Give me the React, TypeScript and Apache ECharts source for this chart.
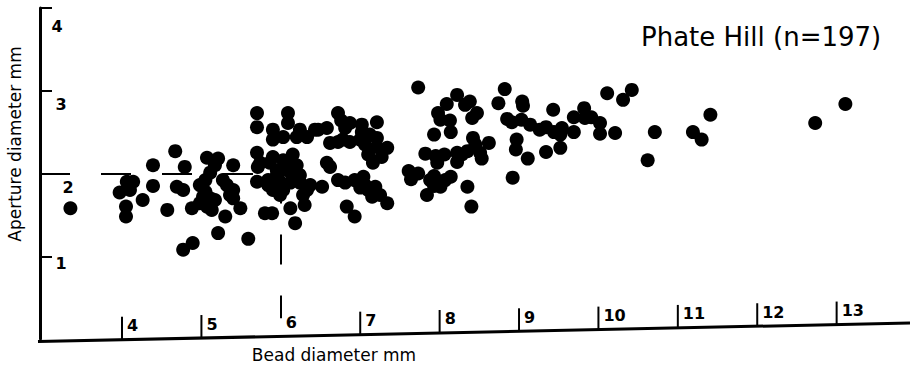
import React, { useEffect, useRef } from "react";
import * as echarts from "echarts";

// ---- data (bead diameter mm, aperture diameter mm) ----
const beadDiameterMm: number[] = [
  3.35, 3.97, 4.06, 4.14, 4.05, 4.05, 4.26, 4.39, 4.39, 4.67, 4.79, 4.69, 4.77, 4.57, 4.88, 4.77, 4.89,
  5.07, 5.21, 5.11, 4.98, 5.02, 4.98, 5.07, 5.13, 5.11, 5.32, 5.27, 5.40, 5.40, 5.49, 5.30, 5.21, 5.59,
  5.40, 5.70, 5.70, 5.70, 5.71, 5.70, 5.74, 5.05, 5.17,
  5.80, 5.89, 5.90, 5.90, 6.09, 6.09, 6.03, 6.20, 6.24, 6.33, 6.47, 6.58, 5.90, 6.03, 6.15, 6.20, 5.86,
  5.95, 5.95, 5.99, 6.12, 6.24, 6.33, 5.90, 6.03, 6.12, 6.18, 6.30, 6.52, 6.58, 6.62, 6.08, 6.18, 5.84, 6.28,
  6.72, 6.76, 6.62, 6.87, 7.00, 7.02, 7.21, 7.21, 7.21, 7.34, 6.72, 6.87, 7.10, 7.16, 7.27, 6.72, 6.93,
  7.04, 7.00, 7.10, 7.19, 7.15, 7.34, 6.93, 6.83, 6.81, 7.06,
  7.73, 7.98, 7.93, 7.82, 7.95, 8.06, 7.61, 7.73, 7.64, 7.84, 8.09, 8.22, 8.38, 8.13, 8.14, 8.22, 8.35,
  8.22, 7.97, 7.93, 8.14, 7.93, 8.01, 8.35, 8.40, 8.47, 8.41, 8.42, 8.62, 8.51, 8.53,
  8.82, 8.74, 9.04, 8.85, 9.03, 9.14, 8.97, 8.96, 9.11, 9.34, 9.52, 8.92, 9.43, 9.34, 9.44, 9.54,
  9.69, 9.69, 9.82, 9.91, 10.02, 10.02, 10.21, 10.11, 10.42, 10.31, 10.71, 10.62, 11.19, 11.30, 11.41,
  12.73, 13.11,
  4.10, 5.05, 5.36, 5.84, 5.99, 6.12, 6.24, 6.37, 6.43, 7.02, 6.78, 7.12, 7.06, 7.25, 6.81, 7.88, 8.07,
  8.28, 8.45, 8.01, 8.32, 8.91, 9.05, 9.26, 9.83, 9.52, 5.05, 5.17,
];

const apertureDiameterMm: number[] = [
  1.58, 1.77, 1.90, 1.90, 1.60, 1.48, 1.68, 1.85, 2.10, 2.27, 2.08, 1.84, 1.80, 1.56, 1.58, 1.08, 1.16,
  2.19, 2.18, 2.01, 1.86, 1.72, 1.64, 1.60, 1.56, 1.70, 1.86, 1.92, 1.80, 1.70, 1.58, 1.48, 1.28, 1.21,
  2.10, 2.73, 2.56, 2.25, 2.08, 1.90, 2.13, 1.78, 1.68,
  1.52, 1.52, 2.53, 2.41, 2.73, 2.61, 2.44, 2.44, 2.53, 2.44, 2.53, 2.55, 2.20, 2.16, 2.23, 2.10, 2.13,
  2.04, 1.98, 1.90, 1.89, 1.89, 1.80, 1.80, 1.80, 1.58, 1.40, 1.62, 1.84, 2.13, 2.08, 2.04, 1.98, 1.92, 1.74,
  2.73, 2.64, 2.37, 2.61, 2.41, 2.50, 2.62, 2.43, 2.32, 2.31, 2.38, 2.38, 2.23, 2.13, 2.20, 1.92, 1.92,
  1.96, 1.83, 1.80, 1.84, 1.72, 1.64, 1.48, 1.60, 2.55, 2.35,
  3.04, 2.73, 2.47, 2.24, 2.21, 2.23, 2.03, 2.00, 1.93, 1.74, 2.84, 2.95, 2.87, 2.64, 2.50, 2.25, 2.27,
  2.14, 2.13, 1.97, 1.96, 1.85, 1.84, 1.84, 1.60, 2.73, 2.67, 2.43, 2.37, 2.25, 2.18,
  3.02, 2.85, 2.87, 2.66, 2.65, 2.59, 2.41, 2.29, 2.18, 2.26, 2.31, 1.95, 2.77, 2.56, 2.50, 2.55,
  2.68, 2.50, 2.79, 2.68, 2.61, 2.48, 2.49, 2.97, 3.01, 2.89, 2.50, 2.16, 2.50, 2.41, 2.71,
  2.61, 2.84,
  1.80, 1.68, 1.74, 1.86, 1.74, 2.16, 1.98, 1.86, 2.53, 2.59, 2.41, 2.47, 1.86, 1.74, 1.89, 1.92, 1.92,
  2.23, 2.35, 2.65, 2.83, 2.62, 2.82, 2.53, 2.67, 2.47, 1.92, 2.10,
];

const xTickValues: number[] = [4, 5, 6, 7, 8, 9, 10, 11, 12, 13];
const yTickValues: number[] = [1, 2, 3, 4];
const titleText = "Phate Hill (n=197)";
const xAxisName = "Bead diameter mm";
const yAxisName = "Aperture diameter mm";
// dashed cross-hair reference lines (bead 6 mm, aperture 2 mm)
const crossX = 6;
const crossY = 2;
const crossEndY = 0.25;

// ---- layout / style ----
const X_MIN = 2.967;
const X_MAX = 13.924;
const Y_MIN = 0;
const Y_MAX = 4;
const FONT = '"DejaVu Sans", "Liberation Sans", sans-serif';
const INK = "#000";
// scanned x axis is slightly slanted: baseline y at left and right ends
const BASE_LEFT_Y = 341.5;
const BASE_RIGHT_Y = 323;
const Y_LABEL_OFFSETS: Record<number, [number, number]> = {
  4: [17, 18],
  3: [21, 14],
  2: [28, 14],
  1: [21, 7],
};

export default function App() {
  const ref = useRef<HTMLDivElement>(null);

  useEffect(() => {
    if (!ref.current) return;
    const chart = echarts.init(ref.current, null, { renderer: "svg" });

    const points = beadDiameterMm.map((x, i) => [x, apertureDiameterMm[i]]);

    chart.setOption({
      animation: false,
      backgroundColor: "#fff",
      title: {
        text: titleText,
        left: 636,
        top: 19,
        textStyle: { fontFamily: FONT, fontSize: 26, fontWeight: "normal", color: INK },
      },
      grid: { left: 40, right: 0, top: 8, bottom: 32, containLabel: false },
      xAxis: {
        type: "value",
        min: X_MIN,
        max: X_MAX,
        axisLine: { show: false },
        axisTick: { show: false },
        axisLabel: { show: false },
        splitLine: { show: false },
      },
      yAxis: {
        type: "value",
        min: Y_MIN,
        max: Y_MAX,
        axisLine: { show: true, onZero: false, lineStyle: { color: INK, width: 3 } },
        axisTick: {
          show: true,
          inside: true,
          length: 12,
          customValues: yTickValues,
          lineStyle: { color: INK, width: 2 },
        },
        axisLabel: { show: false },
        splitLine: { show: false },
      },
      series: [
        {
          type: "scatter",
          data: points,
          symbol: "circle",
          symbolSize: 14,
          itemStyle: { color: INK, opacity: 1 },
          z: 3,
          markLine: {
            silent: true,
            symbol: ["none", "none"],
            label: { show: false },
            lineStyle: { color: INK, width: 2, type: [30, 31], opacity: 1 },
            data: [
              [{ coord: [X_MIN, crossY] }, { coord: [crossX, crossY] }],
              [{ coord: [crossX, crossY] }, { coord: [crossX, crossEndY] }],
            ],
          },
        },
      ],
    });

    const toPx = (v: number) => chart.convertToPixel({ xAxisIndex: 0 }, v) as number;
    const toPy = (v: number) => chart.convertToPixel({ yAxisIndex: 0 }, v) as number;
    const leftPx = toPx(X_MIN);
    const rightPx = toPx(X_MAX);
    const x0 = leftPx - 2;
    const baseAt = (px: number) =>
      BASE_LEFT_Y + ((px - x0) * (BASE_RIGHT_Y - BASE_LEFT_Y)) / (rightPx - x0);

    const tickFont = `bold 16px ${FONT}`;
    const graphics: any[] = [];
    graphics.push({
      type: "line",
      shape: { x1: x0, y1: baseAt(x0), x2: rightPx, y2: baseAt(rightPx) },
      style: { stroke: INK, lineWidth: 3 },
    });
    xTickValues.forEach((v) => {
      const px = toPx(v);
      const by = baseAt(px);
      if (v !== crossX) {
        graphics.push({
          type: "line",
          shape: { x1: px, y1: by, x2: px, y2: by - 23 },
          style: { stroke: INK, lineWidth: 2 },
        });
      }
      graphics.push({
        type: "text",
        x: px + 5,
        y: by - 14,
        style: {
          text: String(v),
          font: tickFont,
          fill: INK,
          align: "left",
          verticalAlign: "middle",
        },
      });
    });
    yTickValues.forEach((v) => {
      const off = Y_LABEL_OFFSETS[v] || [20, 14];
      graphics.push({
        type: "text",
        x: leftPx + off[0],
        y: toPy(v) + off[1],
        style: {
          text: String(v),
          font: tickFont,
          fill: INK,
          align: "center",
          verticalAlign: "middle",
        },
      });
    });
    graphics.push({
      type: "text",
      x: 334,
      y: 355,
      style: {
        text: xAxisName,
        font: `17px ${FONT}`,
        fill: INK,
        align: "center",
        verticalAlign: "middle",
      },
    });
    graphics.push({
      type: "text",
      x: 15,
      y: 144,
      rotation: Math.PI / 2,
      style: {
        text: yAxisName,
        font: `17px ${FONT}`,
        fill: INK,
        align: "center",
        verticalAlign: "middle",
      },
    });

    chart.setOption({ graphic: graphics });

    return () => {
      chart.dispose();
    };
  }, []);

  return (
    <div
      ref={ref}
      style={{ position: "fixed", left: 0, top: 0, width: 910, height: 371, background: "#fff" }}
    />
  );
}
